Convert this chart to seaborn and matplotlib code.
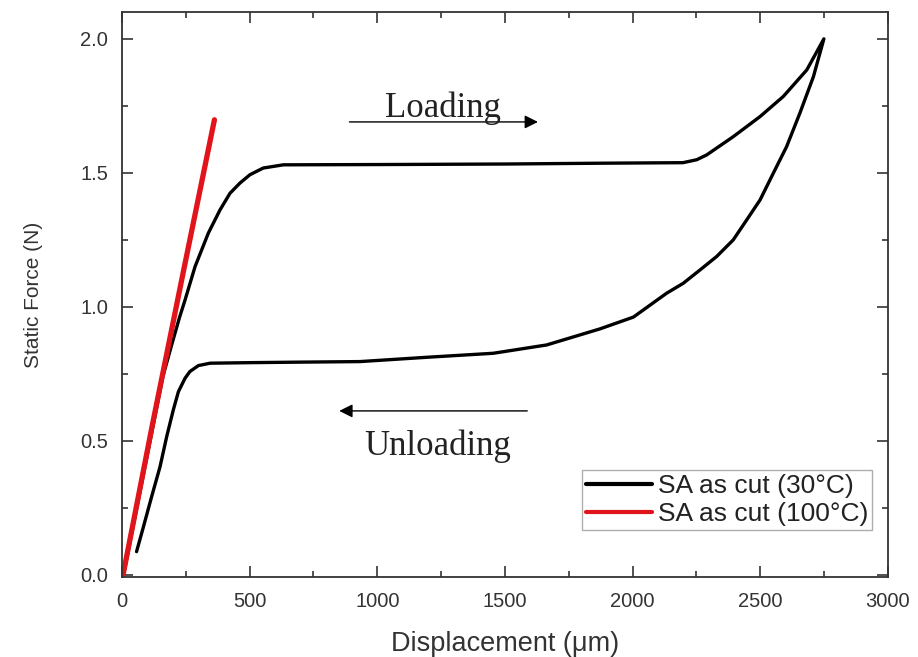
import matplotlib
matplotlib.use("Agg")
import matplotlib.pyplot as plt
import seaborn as sns
import pandas as pd
from matplotlib.ticker import MultipleLocator, FormatStrFormatter

# ---- data ----
load_x = [10, 60, 110, 160, 195, 225, 247, 286, 338, 384, 423, 462, 501, 553, 632,
          1000, 1500, 1872, 2197, 2251, 2290, 2394, 2499, 2590, 2682, 2749]
load_y = [0.02, 0.26, 0.50, 0.74, 0.86, 0.96, 1.026, 1.150, 1.275, 1.362, 1.424, 1.462, 1.493,
          1.518, 1.530, 1.531, 1.533, 1.536, 1.538, 1.549, 1.567, 1.635, 1.710, 1.785, 1.884, 2.00]
unload_x = [2749, 2708, 2655, 2603, 2551, 2499, 2447, 2394, 2329, 2264, 2198, 2133, 2003,
            1872, 1663, 1454, 1193, 932, 700, 500, 345, 299, 266, 247, 221, 201,
            175, 149, 116, 84, 57]
unload_y = [2.00, 1.859, 1.723, 1.598, 1.499, 1.399, 1.325, 1.250, 1.188, 1.138, 1.088, 1.051,
            0.962, 0.918, 0.858, 0.827, 0.812, 0.796, 0.794, 0.792, 0.790, 0.781,
            0.759, 0.734, 0.684, 0.616, 0.516, 0.404, 0.292, 0.180, 0.087]
hot_x = [4, 120, 240, 362]
hot_y = [0.0, 0.565, 1.13, 1.698]

series_cold = "SA as cut (30°C)"
series_hot = "SA as cut (100°C)"
x_ticks = [0, 500, 1000, 1500, 2000, 2500, 3000]
y_ticks = [0.0, 0.5, 1.0, 1.5, 2.0]

df_cold = pd.DataFrame({"x": load_x + unload_x, "y": load_y + unload_y, "series": series_cold})
df_hot = pd.DataFrame({"x": hot_x, "y": hot_y, "series": series_hot})

sns.set_style("white")
plt.rcParams["font.family"] = ["Liberation Sans", "DejaVu Sans"]

fig = plt.figure(figsize=(9.18, 6.57), dpi=100)
ax = fig.add_axes([0.1329, 0.1218, 0.8344, 0.8599])

sns.lineplot(data=df_cold, x="x", y="y", color="black", lw=2.4, sort=False,
             estimator=None, ax=ax, label=series_cold, solid_joinstyle="round")
sns.lineplot(data=df_hot, x="x", y="y", color="#e0141a", lw=3.8, sort=False,
             estimator=None, ax=ax, label=series_hot, solid_capstyle="round")

ax.set_xlim(0, 3000)
ax.set_ylim(-0.0075, 2.1)
ax.set_xticks(x_ticks)
ax.set_yticks(y_ticks)
ax.xaxis.set_minor_locator(MultipleLocator(250))
ax.yaxis.set_minor_locator(MultipleLocator(0.25))
ax.yaxis.set_major_formatter(FormatStrFormatter("%.1f"))
ax.tick_params(which="both", direction="in", top=True, right=True, bottom=True, left=True,
               color="#333333", width=1.2, labelsize=14.5, labelcolor="#333333")
ax.tick_params(axis="x", which="major", pad=11)
ax.tick_params(axis="y", which="major", pad=10)
ax.tick_params(which="major", length=8)
ax.tick_params(which="minor", length=4)
for s in ax.spines.values():
    s.set_visible(True)
    s.set_color("#333333")
    s.set_linewidth(1.3)

ax.set_xlabel("Displacement (\u03bcm)", fontsize=19.5, color="#333333", labelpad=14)
ax.set_ylabel("Static Force (N)", fontsize=15, color="#333333", labelpad=27)

# annotations
ax.annotate("", xy=(1640, 1.69), xytext=(880, 1.69),
            arrowprops=dict(arrowstyle="-|>", color="black", lw=1.0, mutation_scale=20))
ax.text(1257, 1.71, "Loading", fontsize=25, family=["Liberation Serif", "DejaVu Serif"],
        ha="center", va="baseline", color="#222222")
ax.annotate("", xy=(840, 0.612), xytext=(1598, 0.612),
            arrowprops=dict(arrowstyle="-|>", color="black", lw=1.0, mutation_scale=20))
ax.text(1238, 0.448, "Unloading", fontsize=25, family=["Liberation Serif", "DejaVu Serif"],
        ha="center", va="baseline", color="#222222")

leg = ax.legend(loc="lower right", bbox_to_anchor=(0.979, 0.083), fontsize=19,
                frameon=True, fancybox=False, edgecolor="#999999", handlelength=2.5,
                handletextpad=0.2, borderpad=0.15, labelspacing=0.15, borderaxespad=0)
for t in leg.get_texts():
    t.set_color("#222222")
for h in leg.get_lines():
    h.set_linewidth(3.0)
leg.get_frame().set_linewidth(1.0)

fig.savefig("out.png", dpi=100)
